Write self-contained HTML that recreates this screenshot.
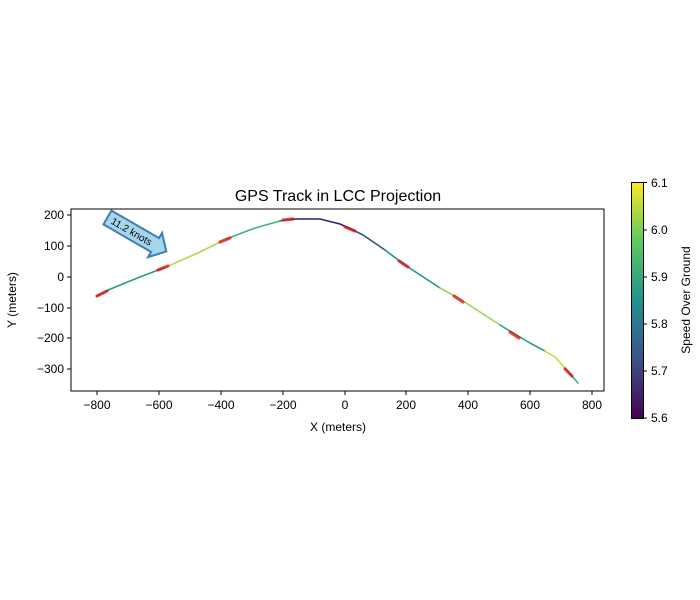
<!DOCTYPE html>
<html><head><meta charset="utf-8"><style>body{margin:0;background:#fff}svg{display:block}text{font-family:"Liberation Sans","DejaVu Sans",sans-serif;fill:#000}</style></head>
<body>
<svg width="700" height="600" viewBox="0 0 700 600">
<defs>
<linearGradient id="vir" x1="0" y1="1" x2="0" y2="0">
<stop offset="0" stop-color="#440154"/><stop offset="0.25" stop-color="#3b528b"/><stop offset="0.5" stop-color="#21918c"/><stop offset="0.75" stop-color="#5ec962"/><stop offset="1" stop-color="#fde725"/>
</linearGradient>
</defs>
<text x="338" y="201" font-size="16" text-anchor="middle">GPS Track in LCC Projection</text>
<g fill="none" stroke-width="1.6" stroke-linecap="round">
<polyline stroke="#2a9a88" points="97,296 108,290 140,277 166,267"/>
<polyline stroke="#b5d84a" points="166,267 200,252 226,239"/>
<polyline stroke="#3fb47a" points="226,239 255,228 280,221"/>
<polyline stroke="#2e6a8e" points="280,221 292,219"/>
<polyline stroke="#2d1f7a" points="292,219 320,219 340,224 351,229"/>
<polyline stroke="#31588c" points="351,229 363,235 385,250"/>
<polyline stroke="#21918c" points="385,250 405,265 440,288"/>
<polyline stroke="#9ed25a" points="440,288 460,299 500,325"/>
<polyline stroke="#28a487" points="500,325 530,343 545,351"/>
<polyline stroke="#c4dc3c" points="545,351 555,357 565,368"/>
<polyline stroke="#35b779" points="565,368 578,383"/>
</g>
<g stroke="#e01010" stroke-width="3.2" stroke-linecap="round" opacity="0.75">
<line x1="97" y1="296" x2="107" y2="291"/><line x1="158" y1="270" x2="168" y2="266"/>
<line x1="220" y1="242" x2="230" y2="238"/><line x1="283" y1="220" x2="293" y2="219"/>
<line x1="345" y1="227" x2="355" y2="231"/><line x1="399" y1="261" x2="408" y2="267"/>
<line x1="454" y1="296" x2="463" y2="302"/><line x1="510" y1="332" x2="519" y2="338"/>
<line x1="565" y1="369" x2="572" y2="376"/>
</g>
<rect x="71" y="209" width="533" height="182" fill="none" stroke="#000" stroke-width="1"/>
<g transform="translate(136,234) rotate(30)">
<polygon points="-33,-8 22,-8 22,-14 35,0 22,14 22,8 -33,8" fill="#a6d6ea" stroke="#3f7fb3" stroke-width="2"/>
<text x="-5" y="3.5" font-size="10" text-anchor="middle">11.2 knots</text>
</g>
<g stroke="#000" stroke-width="1">
<line x1="97" y1="391" x2="97" y2="395"/><line x1="159" y1="391" x2="159" y2="395"/><line x1="221" y1="391" x2="221" y2="395"/><line x1="283" y1="391" x2="283" y2="395"/><line x1="345" y1="391" x2="345" y2="395"/><line x1="406" y1="391" x2="406" y2="395"/><line x1="468" y1="391" x2="468" y2="395"/><line x1="530" y1="391" x2="530" y2="395"/><line x1="592" y1="391" x2="592" y2="395"/>
<line x1="67" y1="215" x2="71" y2="215"/><line x1="67" y1="246" x2="71" y2="246"/><line x1="67" y1="277" x2="71" y2="277"/><line x1="67" y1="308" x2="71" y2="308"/><line x1="67" y1="338" x2="71" y2="338"/><line x1="67" y1="369" x2="71" y2="369"/>
</g>
<g font-size="12" text-anchor="middle">
<text x="97" y="409">−800</text><text x="159" y="409">−600</text><text x="221" y="409">−400</text><text x="283" y="409">−200</text><text x="345" y="409">0</text><text x="406" y="409">200</text><text x="468" y="409">400</text><text x="530" y="409">600</text><text x="592" y="409">800</text>
<text x="338" y="431">X (meters)</text>
</g>
<g font-size="12" text-anchor="end">
<text x="64" y="219">200</text><text x="64" y="250">100</text><text x="64" y="281">0</text><text x="64" y="312">−100</text><text x="64" y="342">−200</text><text x="64" y="373">−300</text>
</g>
<text transform="translate(16,300) rotate(-90)" font-size="12" text-anchor="middle">Y (meters)</text>
<rect x="631.5" y="182.5" width="12" height="236" fill="url(#vir)" stroke="#000" stroke-width="1"/>
<g stroke="#000"><line x1="643" y1="182.5" x2="647" y2="182.5"/><line x1="643" y1="230" x2="647" y2="230"/><line x1="643" y1="277" x2="647" y2="277"/><line x1="643" y1="324" x2="647" y2="324"/><line x1="643" y1="371" x2="647" y2="371"/><line x1="643" y1="418" x2="647" y2="418"/></g>
<g font-size="12"><text x="651" y="187">6.1</text><text x="651" y="234">6.0</text><text x="651" y="281">5.9</text><text x="651" y="328">5.8</text><text x="651" y="375">5.7</text><text x="651" y="422">5.6</text></g>
<text transform="translate(690,300) rotate(-90)" font-size="12" text-anchor="middle">Speed Over Ground</text>
</svg>
</body></html>
